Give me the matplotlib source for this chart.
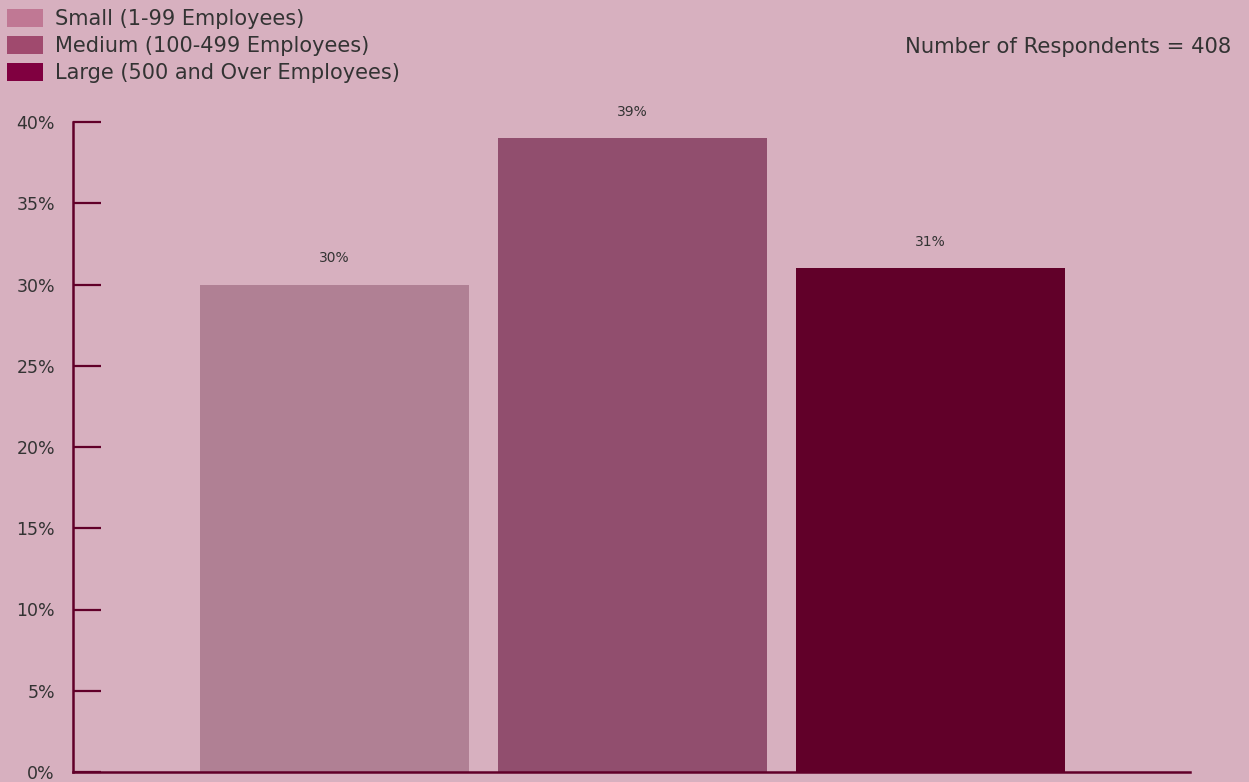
import matplotlib.pyplot as plt
from matplotlib.patches import Patch

categories = ["Small (1-99 Employees)", "Medium (100-499 Employees)", "Large (500 and Over Employees)"]
values = [30, 39, 31]
value_labels = ["30%", "39%", "31%"]
yticks = [0, 5, 10, 15, 20, 25, 30, 35, 40]
respondents = 408

bg = "#d7b0bf"
bar_colors = ["#b08094", "#914e6e", "#610029"]
legend_colors = ["#c07894", "#a04a6e", "#800040"]
dark = "#610029"
txt = "#333333"

plt.rcParams["font.family"] = ["DejaVu Sans"]

fig = plt.figure(figsize=(12.49, 7.82), dpi=100, facecolor=bg)
ax = fig.add_axes([73 / 1249, 10 / 782, (1190 - 73) / 1249, 650 / 782])
ax.set_facecolor(bg)

x = list(range(len(values)))
ax.bar(x, values, width=269 / 298, color=bar_colors)
for xi, v, lab in zip(x, values, value_labels):
    ax.text(xi, v + 1.2, lab, ha="center", va="bottom", fontsize=10, color=txt)

ax.set_xlim(-0.8775, 2.871)
ax.set_ylim(0, 40)
ax.set_yticks(yticks)
ax.set_yticklabels([f"{t}%" for t in yticks])
ax.set_xticks([])
ax.tick_params(axis="y", direction="in", length=20, width=1.6, color=dark,
               pad=13, labelsize=12.5, labelcolor=txt)
for s in ["top", "right"]:
    ax.spines[s].set_visible(False)
for s in ["left", "bottom"]:
    ax.spines[s].set_color(dark)
    ax.spines[s].set_linewidth(1.8)

handles = [Patch(facecolor=c, edgecolor="none") for c in legend_colors]
fig.legend(handles, categories, loc="upper left", bbox_to_anchor=(7 / 1249, 1 - 9 / 782),
           frameon=False, fontsize=15, handlelength=1.75, handleheight=0.95,
           handletextpad=0.55, labelspacing=0.32, borderpad=0, borderaxespad=0,
           labelcolor=txt)

fig.text(1231 / 1249, 1 - 47 / 782, f"Number of Respondents = {respondents}",
         ha="right", va="center", fontsize=15.2, color=txt)

fig.savefig("out.png", dpi=100, facecolor=bg)
